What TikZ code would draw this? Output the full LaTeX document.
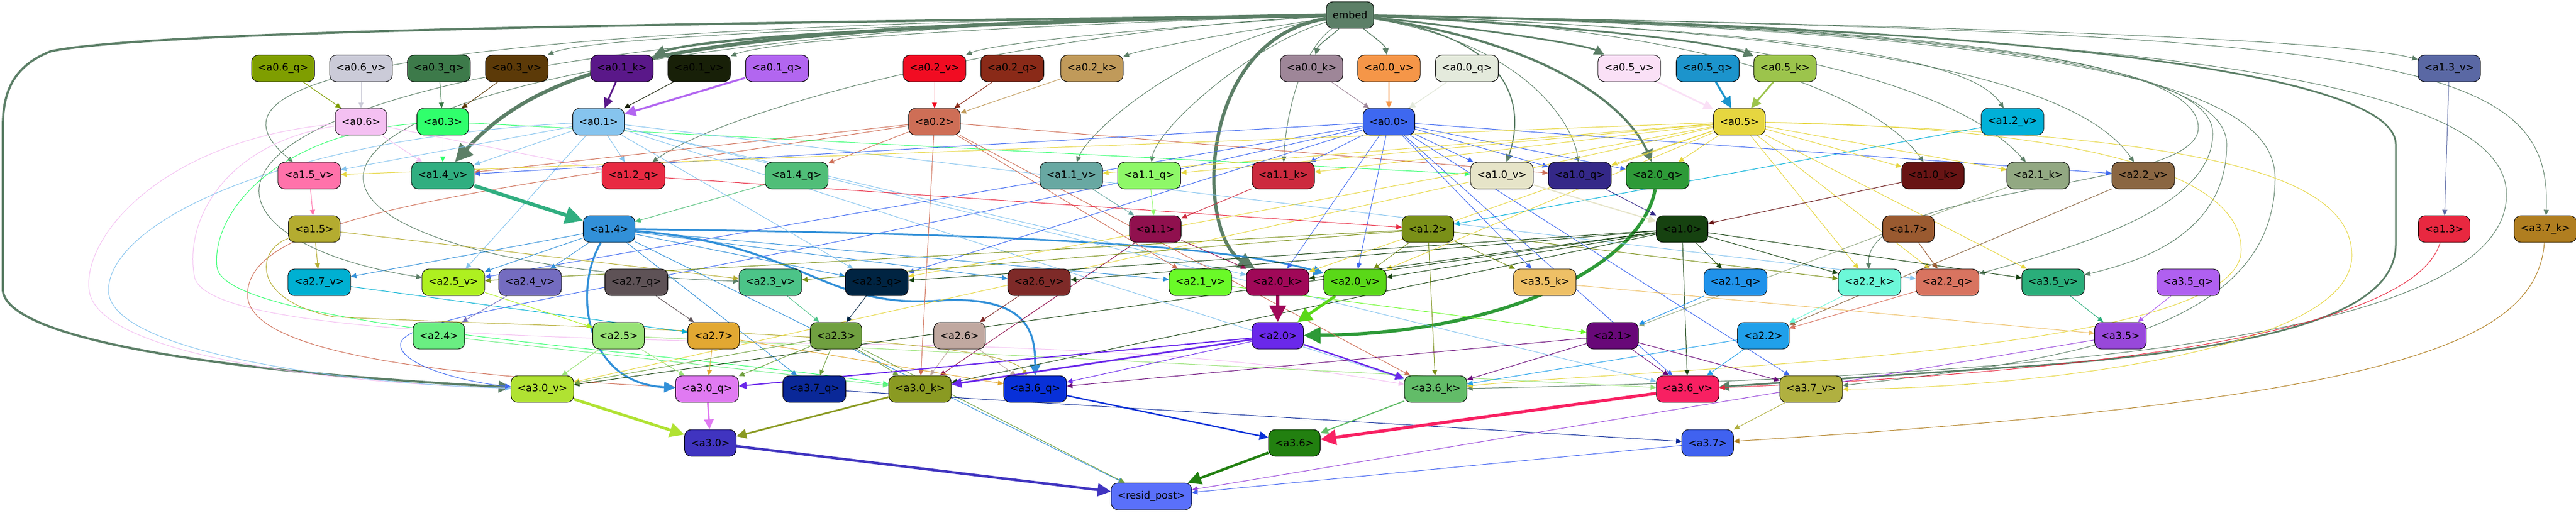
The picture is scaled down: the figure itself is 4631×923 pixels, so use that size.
\documentclass[tikz,border=0pt]{standalone}
\usepackage{fontspec}
\setmainfont{DejaVu Sans}
\usetikzlibrary{arrows.meta,backgrounds}
\definecolor{cembed}{HTML}{5C7F67}
\definecolor{ca06q}{HTML}{7F9E00}
\definecolor{ca06v}{HTML}{CBCBD8}
\definecolor{ca03q}{HTML}{3D7A4A}
\definecolor{ca03v}{HTML}{5C3A08}
\definecolor{ca01k}{HTML}{5A1889}
\definecolor{ca01v}{HTML}{182008}
\definecolor{ca01q}{HTML}{B266F0}
\definecolor{ca02v}{HTML}{F10C22}
\definecolor{ca02q}{HTML}{8A2A18}
\definecolor{ca02k}{HTML}{C09A5A}
\definecolor{ca00k}{HTML}{9E8698}
\definecolor{ca00v}{HTML}{F59648}
\definecolor{ca00q}{HTML}{E4EADC}
\definecolor{ca05v}{HTML}{FAE0F6}
\definecolor{ca05q}{HTML}{1C94CC}
\definecolor{ca05k}{HTML}{9CC44C}
\definecolor{ca13v}{HTML}{5A68A4}
\definecolor{ca06}{HTML}{F4C0F2}
\definecolor{ca03}{HTML}{30FF6C}
\definecolor{ca01}{HTML}{86C4EE}
\definecolor{ca02}{HTML}{CE6E56}
\definecolor{ca00}{HTML}{3E68F0}
\definecolor{ca05}{HTML}{E6D640}
\definecolor{ca12v}{HTML}{00B0D8}
\definecolor{ca15v}{HTML}{FF72AA}
\definecolor{ca14v}{HTML}{30AE80}
\definecolor{ca12q}{HTML}{E82A42}
\definecolor{ca14q}{HTML}{50BE78}
\definecolor{ca11v}{HTML}{68A8A2}
\definecolor{ca11q}{HTML}{8EF868}
\definecolor{ca11k}{HTML}{CC2A3E}
\definecolor{ca10v}{HTML}{E6E4C8}
\definecolor{ca10q}{HTML}{342888}
\definecolor{ca20q}{HTML}{2E9A38}
\definecolor{ca10k}{HTML}{681414}
\definecolor{ca21k}{HTML}{92A882}
\definecolor{ca22v}{HTML}{8A6642}
\definecolor{ca15}{HTML}{B4AC30}
\definecolor{ca14}{HTML}{3290D8}
\definecolor{ca11}{HTML}{90104E}
\definecolor{ca12}{HTML}{7A9018}
\definecolor{ca10}{HTML}{164210}
\definecolor{ca17}{HTML}{9A5A30}
\definecolor{ca13}{HTML}{E82840}
\definecolor{ca37k}{HTML}{B07E20}
\definecolor{ca27v}{HTML}{00B0D2}
\definecolor{ca25v}{HTML}{AEF020}
\definecolor{ca24v}{HTML}{746CC0}
\definecolor{ca27q}{HTML}{5E5256}
\definecolor{ca23v}{HTML}{4CC488}
\definecolor{ca23q}{HTML}{002442}
\definecolor{ca26v}{HTML}{7E2A28}
\definecolor{ca21v}{HTML}{6AFA28}
\definecolor{ca20k}{HTML}{A00858}
\definecolor{ca20v}{HTML}{5AD818}
\definecolor{ca35k}{HTML}{EEC066}
\definecolor{ca21q}{HTML}{2092EA}
\definecolor{ca22k}{HTML}{6CF8D8}
\definecolor{ca22q}{HTML}{D87460}
\definecolor{ca35v}{HTML}{2AAE7A}
\definecolor{ca35q}{HTML}{B060F0}
\definecolor{ca24}{HTML}{6AEE82}
\definecolor{ca25}{HTML}{98E276}
\definecolor{ca27}{HTML}{E2A832}
\definecolor{ca23}{HTML}{70A040}
\definecolor{ca26}{HTML}{C0A8A0}
\definecolor{ca20}{HTML}{6A28EA}
\definecolor{ca21}{HTML}{680878}
\definecolor{ca22}{HTML}{20A0EA}
\definecolor{ca35}{HTML}{9848DA}
\definecolor{ca30v}{HTML}{B0E232}
\definecolor{ca30q}{HTML}{E07AF2}
\definecolor{ca37q}{HTML}{0A2898}
\definecolor{ca30k}{HTML}{8A9A22}
\definecolor{ca36q}{HTML}{0830D8}
\definecolor{ca36k}{HTML}{62BC68}
\definecolor{ca36v}{HTML}{F82062}
\definecolor{ca37v}{HTML}{B0B040}
\definecolor{ca30}{HTML}{4034C0}
\definecolor{ca36}{HTML}{228010}
\definecolor{ca37}{HTML}{4062F0}
\definecolor{cresid}{HTML}{5A70FA}
\tikzset{
  box/.style={draw=black, line width=0.9pt, rounded corners=12pt, minimum height=48pt,
    inner xsep=11.5pt, font=\fontsize{18}{21}\selectfont},
  ed/.style={-{Triangle[length=6pt 4, width=5pt 4]}}
}
\begin{document}
\begin{tikzpicture}[x=1pt,y=1pt]
\useasboundingbox (0,0) rectangle (4631,-923);
\node[box, fill=cembed] (embed) at (2427,-27) {embed};
\foreach \n/\x/\y/\l in {
  a06q/509/123/{<a0.6\_q>}, a06v/649/123/{<a0.6\_v>}, a03q/789/123/{<a0.3\_q>},
  a03v/929/123/{<a0.3\_v>}, a01k/1118/123/{<a0.1\_k>}, a01v/1257/123/{<a0.1\_v>},
  a01q/1397/123/{<a0.1\_q>}, a02v/1680/123/{<a0.2\_v>}, a02q/1820/123/{<a0.2\_q>},
  a02k/1963/123/{<a0.2\_k>}, a00k/2358/123/{<a0.0\_k>}, a00v/2497/123/{<a0.0\_v>},
  a00q/2637/123/{<a0.0\_q>}, a05v/2929/123/{<a0.5\_v>}, a05q/3070/123/{<a0.5\_q>},
  a05k/3209/123/{<a0.5\_k>}, a13v/4403/123/{<a1.3\_v>},
  a06/649/219/{<a0.6>}, a03/796/219/{<a0.3>}, a01/1076/219/{<a0.1>}, a02/1680/219/{<a0.2>},
  a00/2497/219/{<a0.0>}, a05/3127/219/{<a0.5>}, a12v/3618/219/{<a1.2\_v>},
  a15v/556/316/{<a1.5\_v>}, a14v/796/316/{<a1.4\_v>}, a12q/1139/316/{<a1.2\_q>},
  a14q/1432/316/{<a1.4\_q>}, a11v/1926/316/{<a1.1\_v>}, a11q/2066/316/{<a1.1\_q>},
  a11k/2307/316/{<a1.1\_k>}, a10v/2700/316/{<a1.0\_v>}, a10q/2840/316/{<a1.0\_q>},
  a20q/2980/316/{<a2.0\_q>}, a10k/3475/316/{<a1.0\_k>}, a21k/3664/316/{<a2.1\_k>},
  a22v/3853/316/{<a2.2\_v>},
  a15/565/412/{<a1.5>}, a14/1095/412/{<a1.4>}, a11/2077/412/{<a1.1>}, a12/2567/412/{<a1.2>},
  a10/3024/412/{<a1.0>}, a17/3431/412/{<a1.7>}, a13/4394/412/{<a1.3>}, a37k/4576/412/{<a3.7\_k>},
  a27v/574/508/{<a2.7\_v>}, a25v/815/508/{<a2.5\_v>}, a24v/953/508/{<a2.4\_v>},
  a27q/1144/508/{<a2.7\_q>}, a23v/1385/508/{<a2.3\_v>}, a23q/1576/508/{<a2.3\_q>},
  a26v/1868/508/{<a2.6\_v>}, a21v/2158/508/{<a2.1\_v>}, a20k/2297/508/{<a2.0\_k>},
  a20v/2436/508/{<a2.0\_v>}, a35k/2777/508/{<a3.5\_k>}, a21q/3120/508/{<a2.1\_q>},
  a22k/3361/508/{<a2.2\_k>}, a22q/3501/508/{<a2.2\_q>}, a35v/3691/508/{<a3.5\_v>},
  a35q/3934/508/{<a3.5\_q>},
  a24/789/604/{<a2.4>}, a25/1112/604/{<a2.5>}, a27/1283/604/{<a2.7>}, a23/1503/604/{<a2.3>},
  a26/1725/604/{<a2.6>}, a20/2297/604/{<a2.0>}, a21/2899/604/{<a2.1>}, a22/3170/604/{<a2.2>},
  a35/3812/604/{<a3.5>},
  a30v/975/700/{<a3.0\_v>}, a30q/1271/700/{<a3.0\_q>}, a37q/1464/700/{<a3.7\_q>},
  a30k/1654/700/{<a3.0\_k>}, a36q/1861/700/{<a3.6\_q>}, a36k/2581/700/{<a3.6\_k>},
  a36v/3034/700/{<a3.6\_v>}, a37v/3256/700/{<a3.7\_v>},
  a30/1277/797/{<a3.0>}, a36/2327/797/{<a3.6>}, a37/3070/797/{<a3.7>}}
  \node[box, fill=c\n] (\n) at (\x,-\y) {\l};
\node[box, fill=cresid] (resid) at (2070,-893) {<resid\_post>};
\begin{pgfonlayer}{background}
\fill[white] (0,0) rectangle (4631,-923);
\foreach \t/\w/\ax/\ay/\bx/\by in {
  a03v/1/1500/-45/1050/-70, a01k/4/1600/-45/1250/-70, a01v/1/1700/-50/1380/-75,
  a02v/1/2000/-55/1780/-80, a02k/1/2200/-60/2050/-90, a00k/1.5/2400/-60/2370/-80,
  a00v/1.5/2460/-60/2490/-80, a12q/1/1800/-60/1300/-200, a11v/1/2150/-70/1960/-230,
  a11q/1/2250/-80/2080/-230, a11k/1/2330/-100/2310/-230, a20k/6/2150/-70/2150/-420,
  a14v/6.5/1300/-45/1000/-90, a15v/1/500/-45/380/-170, a25v/1/200/-40/250/-420,
  a23v/1/300/-45/300/-470, a10v/2/2730/-70/2740/-200, a10q/1/2750/-80/2830/-230,
  a20q/4/2800/-80/2930/-200, a05v/3/2650/-50/2850/-80, a05k/3/2900/-50/3100/-80,
  a10k/1/3100/-50/3380/-180, a21k/1/3300/-60/3550/-190, a22v/1/3500/-60/3760/-180,
  a12v/1/3400/-60/3560/-130, a13v/1/3800/-50/4250/-80, a37k/1/4300/-60/4590/-100}
  \draw[ed, draw=cembed, line width=\w pt] (embed) .. controls (\ax,\ay) and (\bx,\by) .. (\t);
\draw[ed, draw=cembed, line width=4pt] (embed) .. controls (1500,-40) and (300,-50) .. (92,-92)
  .. controls (20,-120) and (5,-170) .. (5,-230) -- (5,-520) .. controls (5,-590) and (250,-660) .. (a30v);
\draw[ed, draw=cembed, line width=3pt] (embed) .. controls (3300,-40) and (4307,-100) .. (4307,-260)
  -- (4307,-440) .. controls (4307,-560) and (4100,-620) .. (3700,-655) -- (a36v);
\draw[ed, draw=cembed, line width=1pt] (embed) .. controls (3500,-45) and (3952,-110) .. (3952,-230)
  .. controls (3952,-345) and (3352,-330) .. (a22k);
\draw[ed, draw=cembed, line width=1pt] (embed) .. controls (3550,-48) and (3978,-120) .. (3978,-240)
  .. controls (3978,-370) and (3750,-440) .. (a22q);
\draw[ed, draw=cembed, line width=1pt] (embed) .. controls (3600,-50) and (4003,-130) .. (4003,-260)
  .. controls (4003,-420) and (3850,-470) .. (a35v);
\draw[ed, draw=cembed, line width=1pt] (embed) .. controls (3700,-55) and (4090,-150) .. (4090,-320)
  .. controls (4090,-600) and (3700,-650) .. (a37v);
\draw[ed, draw=cembed, line width=1pt] (embed) .. controls (3900,-60) and (4506,-150) .. (4506,-350)
  .. controls (4506,-620) and (3600,-680) .. (a36k);
\draw[ed, draw=ca05, line width=1pt] (a05) .. controls (3700,-230) and (4029,-300) .. (4029,-450)
  .. controls (4029,-640) and (3000,-660) .. (a36k);
\draw[ed, draw=ca05, line width=1pt] (a05) .. controls (3900,-240) and (4228,-300) .. (4228,-460)
  .. controls (4228,-640) and (3600,-700) .. (a37v);
\draw[ed, draw=ca06, line width=1pt] (a06) .. controls (300,-250) and (150,-420) .. (160,-520)
  .. controls (170,-640) and (600,-690) .. (a30v);
\draw[ed, draw=ca06, line width=1pt] (a06) .. controls (400,-260) and (330,-400) .. (350,-500)
  .. controls (380,-600) and (1000,-610) .. (1600,-620) .. controls (2200,-630) and (2450,-680) .. (a36k);
\draw[ed, draw=ca01, line width=1pt] (a01) .. controls (500,-250) and (200,-400) .. (195,-520)
  .. controls (190,-630) and (600,-690) .. (a30v);
\draw[ed, draw=ca03, line width=1pt] (a03) .. controls (500,-240) and (380,-380) .. (390,-480)
  .. controls (400,-590) and (1200,-630) .. (a30k);
\draw[ed, draw=ca02, line width=1pt] (a02) .. controls (900,-340) and (445,-380) .. (445,-530)
  .. controls (445,-650) and (900,-680) .. (a30q);
\draw[ed, draw=ca00, line width=1pt] (a00) .. controls (1200,-520) and (720,-560) .. (720,-620)
  .. controls (720,-660) and (850,-690) .. (a30v);
\draw[ed, draw=ca15, line width=1pt] (a15) .. controls (460,-450) and (450,-540) .. (600,-570)
  .. controls (1000,-590) and (1800,-600) .. (a36q);
\draw[ed, draw=ca13, line width=1pt] (a13) .. controls (4350,-560) and (4000,-660) .. (a36v);
\draw[ed, draw=ca37k, line width=1pt] (a37k) .. controls (4560,-620) and (4300,-720) .. (a37);
\draw[ed, draw=ca20q, line width=6pt] (a20q) .. controls (2950,-480) and (2700,-600) .. (a20);
\draw[ed, draw=ca14, line width=3.5pt] (a14) .. controls (1030,-520) and (1050,-690) .. (a30q);
\draw[ed, draw=ca14, line width=3.5pt] (a14) .. controls (1450,-440) and (1480,-560) .. (1700,-540)
  .. controls (1850,-535) and (1861,-600) .. (a36q);
\draw[ed, draw=ca14, line width=3pt] (a14) .. controls (1800,-420) and (2200,-440) .. (a20v);
\foreach \s/\t/\w in {
  a06q/a06/1, a06v/a06/1, a03q/a03/1, a03v/a03/1, a01k/a01/3, a01v/a01/1, a01q/a01/3.5,
  a02v/a02/1, a02q/a02/1, a02k/a02/1, a00k/a00/1, a00v/a00/1.5, a00q/a00/1.5,
  a05v/a05/3, a05q/a05/3.5, a05k/a05/3, a13v/a13/1, a12v/a12/1,
  a06/a14v/1, a06/a12q/1,
  a03/a14v/1, a03/a10v/1,
  a01/a12q/1, a01/a14v/1, a01/a15v/1, a01/a25v/1, a01/a23q/1, a01/a20k/1,
  a01/a36k/1, a01/a36v/1, a01/a22q/1,
  a02/a14q/1, a02/a21v/1, a02/a30k/1, a02/a36k/1, a02/a10q/1, a02/a14v/1,
  a00/a14v/1, a00/a11k/1, a00/a10v/1, a00/a10q/1, a00/a20q/1, a00/a20v/1, a00/a35k/1,
  a00/a36v/1, a00/a23q/1, a00/a25v/1, a00/a20k/1, a00/a22v/1, a00/a37v/1,
  a05/a11q/1, a05/a11v/1, a05/a11k/1, a05/a15v/1, a05/a10q/1, a05/a20q/1, a05/a10k/1,
  a05/a21k/1, a05/a22k/1, a05/a22q/1, a05/a35v/1, a05/a20k/1, a05/a23q/1, a05/a20v/1,
  a05/a30v/1,
  a15v/a15/1, a14v/a14/6.5, a12q/a12/1, a14q/a14/1, a11v/a11/1, a11q/a11/1, a11k/a11/1,
  a10v/a10/2, a10q/a10/1, a10k/a10/1, a21k/a21/1, a22v/a22/1,
  a15/a27v/1, a15/a23v/1,
  a14/a25v/1, a14/a24v/1, a14/a27v/1, a14/a26v/1, a14/a21v/1, a14/a37q/1, a14/a23q/1, a14/resid/1,
  a11/a20k/1, a11/a30k/1,
  a12/a20v/1, a12/a35k/1, a12/a36k/1, a12/a22k/1, a12/a23v/1, a12/a25v/1,
  a10/a20v/1, a10/a21q/1, a10/a22k/1, a10/a35v/1, a10/a26v/1, a10/a23q/1, a10/a30v/1,
  a10/a36v/1, a10/a20k/1, a10/a30k/1,
  a17/a22q/1,
  a27v/a27/1, a25v/a25/1, a24v/a24/1, a27q/a27/1, a23v/a23/1, a23q/a23/1, a26v/a26/1,
  a21v/a21/1, a20k/a20/6, a20v/a20/5, a35k/a35/1, a21q/a21/1, a22k/a22/1, a22q/a22/1,
  a35v/a35/1, a35q/a35/1,
  a24/a30k/1, a25/a30v/1, a25/a30q/1, a25/a36v/1, a27/a30q/1, a27/a36q/1,
  a23/a30v/1, a23/a30q/1, a23/a37q/1, a23/a30k/1, a23/resid/1, a26/a30k/1, a26/a36q/1,
  a20/a30q/2, a20/a30k/3, a20/a36q/1, a20/a36k/2.5,
  a21/a36v/1, a21/a36k/1, a21/a36q/1, a21/a37v/1, a22/a36v/1, a22/a36k/1, a35/resid/1,
  a30v/a30/5, a30q/a30/3, a30k/a30/3, a37q/a37/1, a36q/a36/2.5, a36k/a36/2, a36v/a36/5.5,
  a37v/a37/1, a30/resid/4.5, a36/resid/4.5, a37/resid/1}
  \draw[ed, draw=c\s, line width=\w pt] (\s) -- (\t);
\end{pgfonlayer}
\end{tikzpicture}
\end{document}
